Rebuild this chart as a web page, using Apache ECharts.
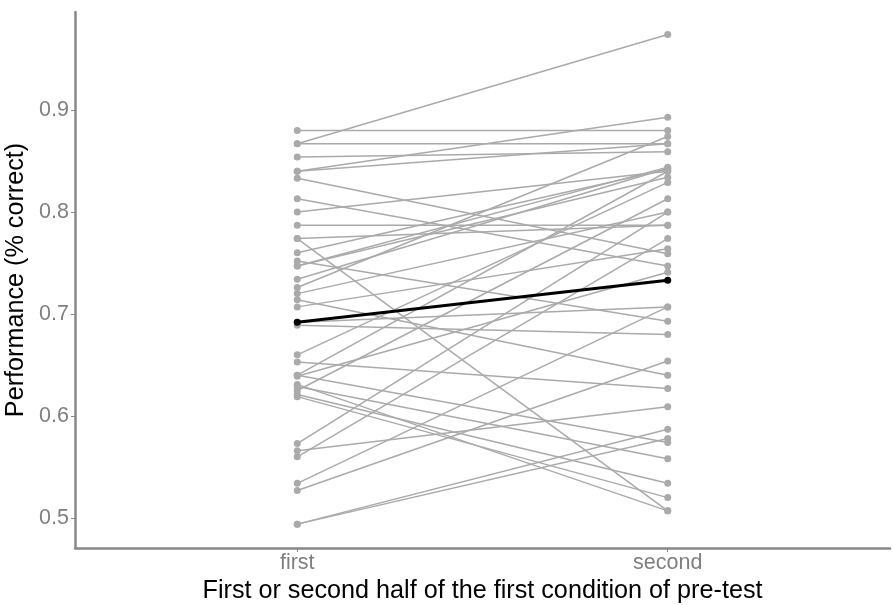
<!DOCTYPE html>
<html>
<head>
<meta charset="utf-8">
<script src="https://cdn.jsdelivr.net/npm/echarts@6/dist/echarts.min.js"></script>
<style>html,body{margin:0;padding:0;background:#fff;}#c{width:893px;height:605px;}</style>
</head>
<body>
<div id="c"></div>
<script>
const categories = ['first', 'second'];
const firstHalf = [0.880,0.867,0.867,0.854,0.840,0.840,0.833,0.813,0.800,0.787,0.774,0.774,0.760,0.752,0.747,0.747,0.734,0.726,0.720,0.714,0.707,0.692,0.689,0.660,0.653,0.640,0.640,0.639,0.629,0.625,0.621,0.619,0.573,0.566,0.560,0.534,0.527,0.494,0.494,0.631];
const secondHalf = [0.880,0.974,0.867,0.859,0.893,0.867,0.759,0.747,0.840,0.787,0.787,0.507,0.842,0.693,0.844,0.834,0.843,0.874,0.800,0.640,0.764,0.707,0.680,0.829,0.627,0.840,0.574,0.741,0.558,0.813,0.534,0.520,0.800,0.609,0.774,0.707,0.654,0.578,0.587,0.507];
const meanValues = [0.692, 0.733];
const yTicks = [0.5, 0.6, 0.7, 0.8, 0.9];

const series = [];
for (let i = 0; i < firstHalf.length; i++) {
  series.push({
    type: 'line',
    data: [[1, firstHalf[i]], [2, secondHalf[i]]],
    symbol: 'circle', symbolSize: 7,
    lineStyle: { color: '#aaaaaa', width: 1.5 },
    itemStyle: { color: '#aaaaaa' },
    silent: true, animation: false, z: 2
  });
}
series.push({
  type: 'line',
  data: [[1, meanValues[0]], [2, meanValues[1]]],
  symbol: 'circle', symbolSize: 7,
  lineStyle: { color: '#000', width: 3 },
  itemStyle: { color: '#000' },
  silent: true, animation: false, z: 5
});

const chart = echarts.init(document.getElementById('c'), null, { renderer: 'canvas' });
chart.setOption({
  animation: false,
  backgroundColor: '#fff',
  grid: { left: 75, right: 3, top: 12, bottom: 57, containLabel: false, outerBoundsMode: 'none' },
  xAxis: {
    type: 'value', min: 0.4, max: 2.6,
    name: 'First or second half of the first condition of pre-test',
    nameLocation: 'middle', nameGap: 29,
    nameTextStyle: { color: '#000', fontSize: 25.2, fontFamily: 'Liberation Sans' },
    axisLine: { show: true, onZero: false, lineStyle: { color: '#888', width: 2.5 } },
    axisTick: { show: true, length: 4, customValues: [1, 2], lineStyle: { color: '#888', width: 1 } },
    axisLabel: { customValues: [1, 2], formatter: v => categories[Math.round(v) - 1] || '', color: '#7f7f7f', fontSize: 21.5, fontFamily: 'Liberation Sans', margin: 4 },
    splitLine: { show: false }
  },
  yAxis: {
    type: 'value', min: 0.4706, max: 0.9961,
    name: 'Performance (% correct)',
    nameLocation: 'middle', nameGap: 39, nameRotate: 90,
    nameTextStyle: { color: '#000', fontSize: 25.2, fontFamily: 'Liberation Sans' },
    axisLine: { show: true, onZero: false, lineStyle: { color: '#888', width: 2.5 } },
    axisTick: { show: true, length: 4, customValues: yTicks, lineStyle: { color: '#888', width: 1 } },
    axisLabel: { customValues: yTicks, formatter: v => v.toFixed(1), color: '#7f7f7f', fontSize: 21.5, fontFamily: 'Liberation Sans', margin: 6 },
    splitLine: { show: false }
  },
  series: series
});
</script>
</body>
</html>
